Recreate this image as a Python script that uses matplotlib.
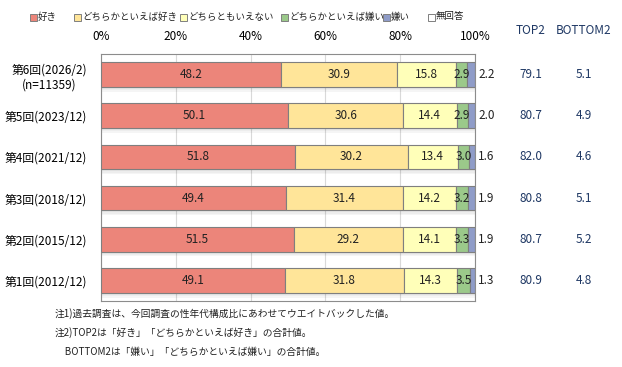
import matplotlib.pyplot as plt
import numpy as np
from matplotlib.patches import Rectangle

plt.rcParams['font.family'] = ['Noto Sans CJK JP', 'DejaVu Sans']

# data
rounds = ["第6回(2026/2)\n(n=11359)", "第5回(2023/12)", "第4回(2021/12)",
          "第3回(2018/12)", "第2回(2015/12)", "第1回(2012/12)"]
cats = ["好き", "どちらかといえば好き", "どちらともいえない", "どちらかといえば嫌い", "嫌い", "無回答"]
suki = [48.2, 50.1, 51.8, 49.4, 51.5, 49.1]
yayasuki = [30.9, 30.6, 30.2, 31.4, 29.2, 31.8]
neutral = [15.8, 14.4, 13.4, 14.2, 14.1, 14.3]
yayakirai = [2.9, 2.9, 3.0, 3.2, 3.3, 3.5]
kirai = [2.2, 2.0, 1.6, 1.9, 1.9, 1.3]
muk = [0.0, 0.0, 0.0, 0.0, 0.0, 0.0]
top2 = ["79.1", "80.7", "82.0", "80.8", "80.7", "80.9"]
bottom2 = ["5.1", "4.9", "4.6", "5.1", "5.2", "4.8"]
colors = ["#EC857A", "#FFE599", "#FFFFB9", "#9BC98A", "#8F9CC8", "#FFFFFF"]

series = [suki, yayasuki, neutral, yayakirai, kirai, muk]

W, H = 622, 367
fig = plt.figure(figsize=(W / 100, H / 100), dpi=100)
ax = fig.add_axes([101 / W, 1 - 301 / H, 374 / W, 247 / H])

y = np.arange(len(rounds))
bh = 0.6

# soft shadow under each bar
for i in y:
    for k, a in enumerate([0.10, 0.07, 0.04]):
        ax.barh(i + bh / 2 + 0.03 + k * 0.035, 100, height=0.035, color='black',
                alpha=a, linewidth=0, zorder=1)

left = np.zeros(len(rounds))
for vals, c, name in zip(series, colors, cats):
    vals = np.array(vals)
    ax.barh(y, vals, left=left, height=bh, color=c, edgecolor='#7F7F7F',
            linewidth=0.8, zorder=3, label=name)
    left += vals

# value labels
for i in y:
    x0 = 0
    for j, vals in enumerate(series[:4]):
        v = vals[i]
        ax.text(x0 + v / 2, i, f"{v:.1f}", ha='center', va='center', fontsize=8.5,
                color='#222222', zorder=4)
        x0 += v
    ax.text(100.8, i, f"{kirai[i]:.1f}", ha='left', va='center', fontsize=8.5,
            color='#222222', clip_on=False)

ax.set_xlim(0, 100)
ax.set_ylim(len(rounds) - 0.5, -0.5)
ax.set_xticks(np.arange(0, 101, 20))
ax.set_xticklabels([f"{t}%" for t in range(0, 101, 20)], fontsize=8.5)
ax.xaxis.tick_top()
ax.tick_params(axis='x', length=0, pad=8)
ax.set_yticks(y)
ax.set_yticklabels(rounds, fontsize=8.5, multialignment='center')
ax.tick_params(axis='y', length=0, pad=10)
ax.grid(axis='x', color='#D9D9D9', linewidth=0.8, zorder=0)
ax.set_axisbelow(True)
for s in ax.spines.values():
    s.set_color('#8C8C8C')
    s.set_linewidth(0.8)

# TOP2 / BOTTOM2 columns
fig.text(531 / W, 1 - 31 / H, "TOP2", ha='center', va='center', fontsize=8.5, color='#1F3864')
fig.text(584 / W, 1 - 31 / H, "BOTTOM2", ha='center', va='center', fontsize=8.5, color='#1F3864')
for i in y:
    yy = ax.transData.transform((0, i))[1] / fig.dpi / fig.get_figheight()
    fig.text(531 / W, yy, top2[i], ha='center', va='center', fontsize=8.5, color='#1F3864')
    fig.text(584 / W, yy, bottom2[i], ha='center', va='center', fontsize=8.5, color='#1F3864')

# legend
lx = [30, 74, 180, 281, 383, 428]
for x, c, name in zip(lx, colors, cats):
    fig.patches.append(Rectangle((x / W, 1 - 21 / H), 7 / W, 7 / H, transform=fig.transFigure,
                                 facecolor=c, edgecolor='#7F7F7F', linewidth=0.7))
    fig.text((x + 8) / W, 1 - 17 / H, name, ha='left', va='center', fontsize=6.8, color='#222222')

# notes
notes = ["注1)過去調査は、今回調査の性年代構成比にあわせてウエイトバックした値。",
         "注2)TOP2は「好き」「どちらかといえば好き」の合計値。",
         "　BOTTOM2は「嫌い」「どちらかといえば嫌い」の合計値。"]
for k, n in enumerate(notes):
    fig.text(55 / W, 1 - (314 + k * 19) / H, n, ha='left', va='center', fontsize=7, color='#222222')

fig.savefig("out.png", dpi=100)
